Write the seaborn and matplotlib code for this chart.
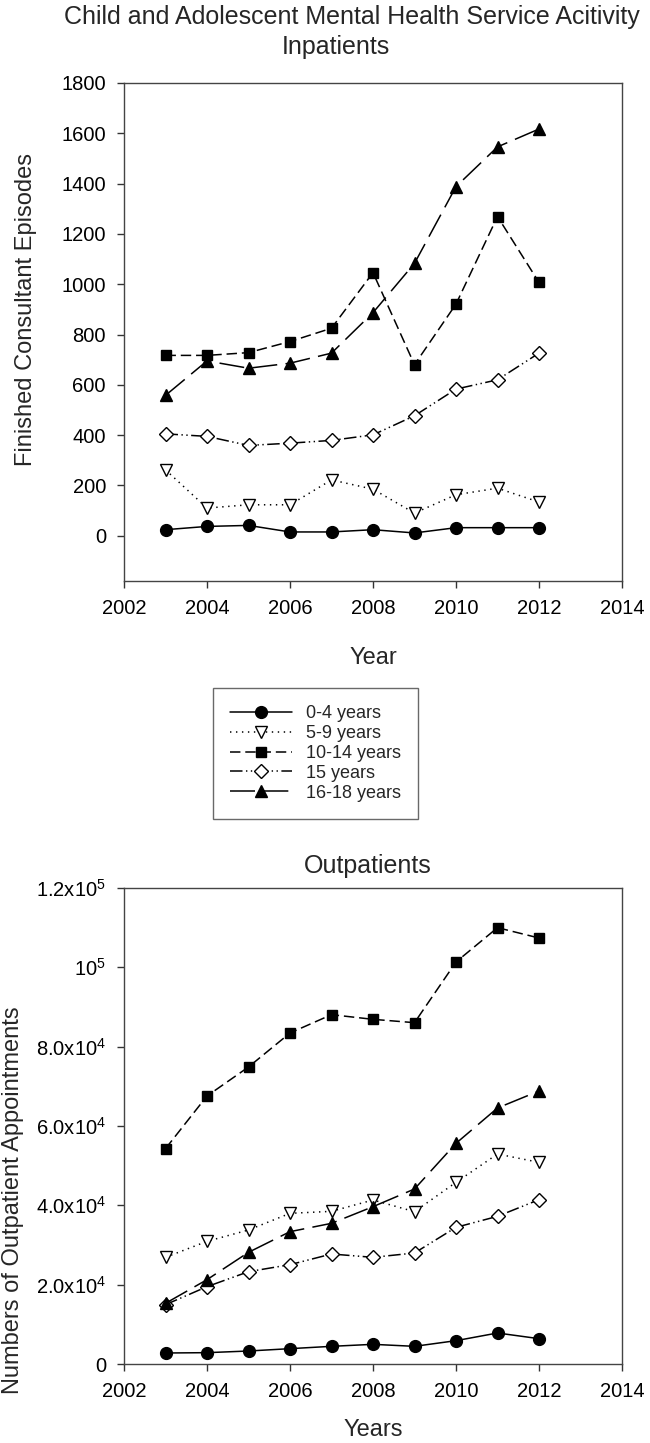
import pandas as pd
import matplotlib
matplotlib.use("Agg")
import matplotlib.pyplot as plt
import seaborn as sns

sns.set_theme(style="ticks")
plt.rcParams["font.family"] = ["Liberation Sans", "DejaVu Sans"]
plt.rcParams["lines.scale_dashes"] = False

# ── Datos ──────────────────────────────────────────────────────────────
years = [2003, 2004, 2005, 2006, 2007, 2008, 2009, 2010, 2011, 2012]
groups = ["0-4 years", "5-9 years", "10-14 years", "15 years", "16-18 years"]

inp_0_4 = [24, 37, 41, 15, 15, 24, 11, 32, 32, 32]
inp_5_9 = [262, 110, 123, 123, 222, 185, 90, 163, 189, 134]
inp_10_14 = [717, 717, 728, 772, 825, 1046, 680, 921, 1269, 1007]
inp_15 = [405, 395, 359, 368, 379, 401, 477, 583, 620, 726]
inp_16_18 = [558, 695, 666, 686, 726, 887, 1083, 1388, 1546, 1617]

out_0_4 = [2773, 2857, 3277, 3866, 4454, 4958, 4454, 5882, 7815, 6387]
out_5_9 = [26891, 30924, 33782, 37983, 38487, 41345, 38403, 45798, 52941, 50840]
out_10_14 = [54286, 67563, 74874, 83445, 88067, 86891, 86050, 101345, 110000, 107395]
out_15 = [14958, 19496, 23277, 25042, 27731, 26891, 27983, 34454, 37227, 41429]
out_16_18 = [15294, 21261, 28151, 33361, 35462, 39664, 44118, 55630, 64538, 68824]

inp_ticks = [0, 200, 400, 600, 800, 1000, 1200, 1400, 1600, 1800]
out_ticks = [0, 20000, 40000, 60000, 80000, 100000, 120000]
out_tick_labels = ["0",
                   r"2.0x10$^{\mathregular{4}}$",
                   r"4.0x10$^{\mathregular{4}}$",
                   r"6.0x10$^{\mathregular{4}}$",
                   r"8.0x10$^{\mathregular{4}}$",
                   r"10$^{\mathregular{5}}$",
                   r"1.2x10$^{\mathregular{5}}$"]
x_ticks = [2002, 2004, 2006, 2008, 2010, 2012, 2014]

# estilo por grupo: (marcador, relleno, tamaño, linestyle)
estilos = {
    "0-4 years":   ("o", "black", 8.5, "-"),
    "5-9 years":   ("v", "white", 8.5, (0, (1, 3.3))),
    "10-14 years": ("s", "black", 7.5, (0, (7.5, 3.5))),
    "15 years":    ("D", "white", 7, (0, (9, 2.5, 1, 2.5, 1, 2.5))),
    "16-18 years": ("^", "black", 8.5, (0, (18, 6))),
}

W, H = 650, 1443
fig = plt.figure(figsize=(W / 100, H / 100), dpi=100)


def px_box(left, top, right, bottom):
    return [left / W, 1 - bottom / H, (right - left) / W, (bottom - top) / H]


ax1 = fig.add_axes(px_box(124, 83, 622, 581))
ax2 = fig.add_axes(px_box(124, 888, 622, 1364))


def dibujar(ax, series):
    for g, vals in zip(groups, series):
        m, fc, ms, ls = estilos[g]
        df = pd.DataFrame({"year": years, "value": vals})
        sns.lineplot(data=df, x="year", y="value", ax=ax, color="black",
                     marker=m, markersize=ms, markerfacecolor=fc,
                     markeredgecolor="black", markeredgewidth=1.0,
                     linewidth=1.1, linestyle=ls, label=g, legend=False)


dibujar(ax1, [inp_0_4, inp_5_9, inp_10_14, inp_15, inp_16_18])
dibujar(ax2, [out_0_4, out_5_9, out_10_14, out_15, out_16_18])

for ax in (ax1, ax2):
    ax.set_xlim(2002, 2014)
    ax.set_xticks(x_ticks)
    ax.set_xlabel("")
    ax.set_ylabel("")
    ax.tick_params(direction="out", length=5, width=1, colors="#333333",
                   labelsize=14.5, labelcolor="black", pad=8)
    for s in ax.spines.values():
        s.set_visible(True)
        s.set_color("#444444")
        s.set_linewidth(1.0)
    ax.grid(False)

ax1.set_ylim(-180, 1800)
ax1.set_yticks(inp_ticks)
ax2.set_ylim(0, 120000)
ax2.set_yticks(out_ticks)
ax2.set_yticklabels(out_tick_labels)

# ── Textos ─────────────────────────────────────────────────────────────
fig.text(352 / W, 1 - 17 / H, "Child and Adolescent Mental Health Service Acitivity",
         ha="center", va="center", fontsize=18)
fig.text(336 / W, 1 - 47 / H, "Inpatients", ha="center", va="center", fontsize=18)
fig.text(368 / W, 1 - 866 / H, "Outpatients", ha="center", va="center", fontsize=18)
fig.text(26 / W, 1 - 310 / H, "Finished Consultant Episodes", rotation=90,
         ha="center", va="center", fontsize=17)
fig.text(13 / W, 1 - 1200 / H, "Numbers of Outpatient Appointments", rotation=90,
         ha="center", va="center", fontsize=17)
fig.text(373 / W, 1 - 658 / H, "Year", ha="center", va="center", fontsize=17)
fig.text(373 / W, 1 - 1430 / H, "Years", ha="center", va="center", fontsize=17)

# ── Leyenda ────────────────────────────────────────────────────────────
handles, labels = ax1.get_legend_handles_labels()
leg = fig.legend(handles, labels, loc="upper left",
                 bbox_to_anchor=(213 / W, 1 - 688 / H), fontsize=13,
                 frameon=True, fancybox=False, edgecolor="#444444",
                 handlelength=3.4, handletextpad=0.8, labelspacing=0.16,
                 borderpad=0.95, borderaxespad=0, numpoints=1)
leg.get_frame().set_linewidth(1.0)

fig.savefig("out.png", dpi=100)
